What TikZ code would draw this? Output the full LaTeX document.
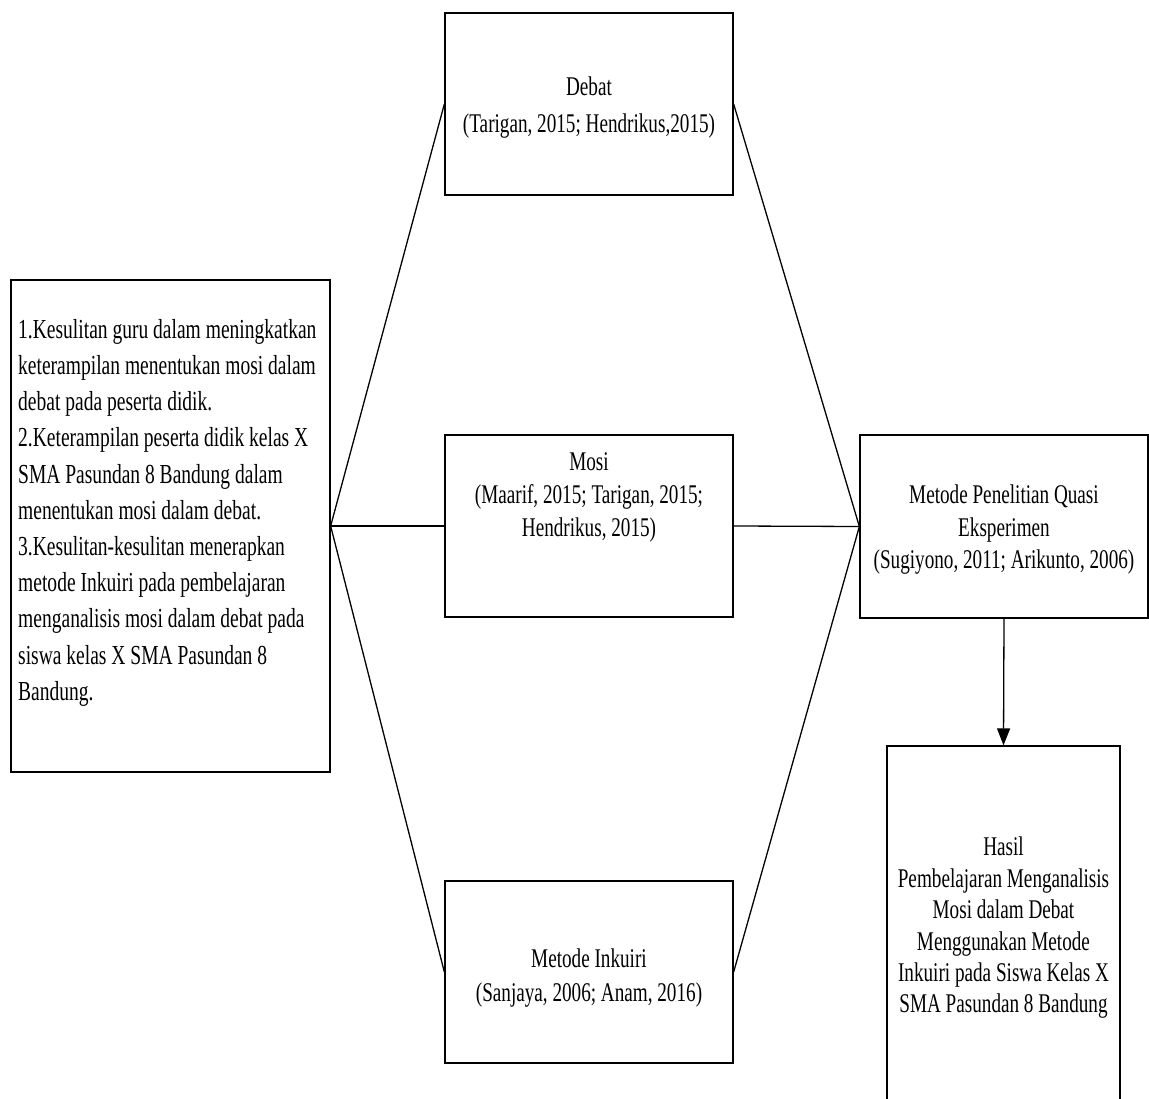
\documentclass[tikz,border=0pt]{standalone}
\usepackage{fontspec}
\setmainfont{Liberation Serif}[FakeStretch=0.71]
\usetikzlibrary{arrows.meta}
\tikzset{
  kotak/.style={draw, line width=1.3pt, inner sep=0pt},
  isi/.style={align=center, inner sep=0pt},
  garis/.style={line width=1.3pt},
}
\begin{document}
\begin{tikzpicture}[x=1pt, y=-1pt, font=\fontsize{27}{36}\selectfont]
	\useasboundingbox (0,0) rectangle (1149,1099);
	\clip (0,0) rectangle (1149,1099);
	% kotak-kotak
	\node[kotak, minimum width=319pt, minimum height=492pt] (masalah) at (170.5,526) {};
	\node[kotak, minimum width=288pt, minimum height=182pt] (debat) at (589,104) {};
	\node[kotak, minimum width=288pt, minimum height=182pt] (mosi) at (589,526) {};
	\node[kotak, minimum width=288pt, minimum height=182pt] (inkuiri) at (589,972) {};
	\node[kotak, minimum width=288pt, minimum height=183pt] (metode) at (1004,526.5) {};
	\node[kotak, minimum width=233pt, minimum height=380pt] (hasil) at (1003.5,936) {};
	% isi kotak
	\node[align=left, inner sep=0pt, anchor=north west, font=\fontsize{27.5}{36.2}\selectfont] (masalahteks) at (18,319) {1.Kesulitan guru dalam meningkatkan\\
		keterampilan menentukan mosi dalam\\
		debat pada peserta didik.\\
		2.Keterampilan peserta didik kelas X\\
		SMA Pasundan 8 Bandung dalam\\
		menentukan mosi dalam debat.\\
		3.Kesulitan-kesulitan menerapkan\\
		metode Inkuiri pada pembelajaran\\
		menganalisis mosi dalam debat pada\\
		siswa kelas X SMA Pasundan 8\\
		Bandung.};
	\node[isi, font=\fontsize{27}{37}\selectfont] (debatteks) at (589,108) {Debat\\(Tarigan, 2015; Hendrikus,2015)};
	\node[isi, font=\fontsize{27}{33}\selectfont] (mositeks) at (589,497) {Mosi\\(Maarif, 2015; Tarigan, 2015;\\Hendrikus, 2015)};
	\node[isi, font=\fontsize{27}{34}\selectfont] (inkuiriteks) at (589,978) {Metode Inkuiri\\(Sanjaya, 2006; Anam, 2016)};
	\node[isi, font=\fontsize{27}{32.5}\selectfont] (metodeteks) at (1004,530) {Metode Penelitian Quasi\\Eksperimen\\(Sugiyono, 2011; Arikunto, 2006)};
	\node[isi, font=\fontsize{27}{31.4}\selectfont] (hasilteks) at (1003.5,928) {Hasil\\Pembelajaran Menganalisis\\Mosi dalam Debat\\Menggunakan Metode\\Inkuiri pada Siswa Kelas X\\SMA Pasundan 8 Bandung};
	% garis
	\foreach \t in {debat,mosi,inkuiri}{
		\draw[garis] (masalah.east) -- (\t.west);
		\draw[garis] (\t.east) -- (metode.west);
	}
	\draw[garis, -{Triangle[width=13pt,length=17pt]}] (metode.south) -- (hasil.north);
\end{tikzpicture}
\end{document}
